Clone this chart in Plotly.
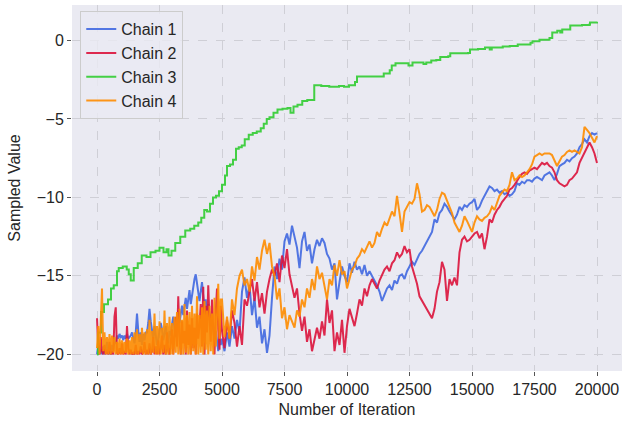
import plotly.graph_objects as go

# Stored iterations: every 50 during the first 5000 (burn-in), every 100 afterwards
iterations = list(range(0, 5000, 50)) + list(range(5000, 20001, 100))

chain1 = [
    # 0 - 4950
    -20.0, -19.4, -20.0, -19.7, -20.0, -19.5, -20.0, -19.8, -19.2, -20.0,
    -19.6, -20.0, -19.4, -19.7, -19.2, -19.3, -18.8, -19.0, -18.7, -18.9,
    -18.8, -19.1, -18.8, -19.0, -18.7, -19.0, -18.9, -18.8, -18.6, -19.0,
    -19.3, -18.6, -17.4, -18.5, -19.2, -18.6, -19.4, -18.7, -19.1, -18.6,
    -18.6, -18.0, -17.1, -17.9, -18.5, -19.0, -18.2, -18.8, -19.4, -19.0,
    -18.6, -18.0, -18.4, -19.1, -18.7, -18.2, -18.9, -19.3, -18.5, -18.8,
    -18.1, -17.6, -18.4, -18.9, -17.8, -17.2, -18.0, -17.4, -16.9, -17.5,
    -17.0, -16.4, -17.1, -16.6, -15.9, -16.8, -16.2, -15.6, -15.2, -14.9,
    -15.5, -15.9, -16.6, -16.0, -15.4, -16.3, -17.0, -16.5, -17.4, -16.8,
    -17.6, -18.2, -17.8, -18.6, -19.1, -18.5, -19.3, -19.8, -19.0, -19.4,
    # 5000 - 10000
    -19.0, -19.8, -18.6, -19.5, -18.2, -19.0, -17.8, -18.6, -16.0, -15.1, -16.4,
    -15.6, -17.5, -16.4, -18.3, -17.6, -19.3, -18.4, -19.9, -18.8, -16.4,
    -14.4, -15.2, -13.9, -14.6, -12.8, -12.3, -13.0, -11.8, -12.5, -13.2,
    -14.5, -12.8, -12.2, -13.4, -13.0, -14.2, -13.3, -12.7, -13.1, -12.6,
    -12.9, -13.6, -13.9, -14.6, -14.2, -16.5, -15.4, -14.4, -15.0, -15.4,
    # 10100 - 20000
    -14.2, -14.8, -14.1, -14.6, -14.4, -14.9, -14.3, -15.0, -14.7, -15.0,
    -15.2, -15.6, -16.0, -16.6, -16.2, -15.8, -15.6, -15.9, -15.3, -15.5,
    -15.0, -14.9, -15.2, -14.7, -14.4, -14.1, -14.3, -13.9, -13.6, -13.4,
    -13.1, -12.8, -12.5, -12.2, -11.4, -11.6, -11.0, -10.8, -10.4, -10.6,
    -10.9, -11.2, -11.4, -11.1, -10.6, -10.8, -10.5, -10.6, -10.4, -10.3,
    -10.1, -10.8, -10.6, -10.2, -9.9, -9.6, -9.3, -9.4, -9.6, -9.5,
    -9.7, -9.6, -9.8, -9.7, -9.9, -9.8, -9.6, -9.1, -9.2, -9.0,
    -9.1, -8.9, -8.9, -9.0, -8.8, -8.7, -8.8, -8.9, -8.6, -8.5,
    -8.4, -8.6, -8.9, -8.5, -8.0, -7.9, -7.8, -7.6, -7.7, -7.5,
    -7.4, -7.2, -6.8, -6.6, -6.3, -6.5, -6.1, -5.9, -6.0, -5.9,
]

chain2 = [
    # 0 - 4950
    -17.7, -19.6, -20.0, -18.9, -19.8, -20.0, -19.4, -20.0, -19.7, -20.0,
    -19.2, -20.0, -19.8, -20.0, -17.6, -17.0, -19.9, -20.0, -19.6, -20.0,
    -19.3, -20.0, -19.8, -20.0, -18.2, -19.6, -20.0, -19.7, -20.0, -19.9,
    -20.0, -19.4, -20.0, -19.8, -20.0, -19.5, -20.0, -19.9, -19.2, -20.0,
    -19.7, -20.0, -19.3, -20.0, -19.8, -18.9, -20.0, -19.5, -20.0, -19.1,
    -20.0, -19.6, -18.8, -20.0, -19.4, -20.0, -18.6, -19.8, -20.0, -19.2,
    -18.4, -20.0, -19.0, -17.6, -19.5, -16.3, -18.8, -20.0, -17.9, -19.3,
    -18.5, -20.0, -17.2, -19.4, -18.1, -20.0, -17.7, -19.6, -18.3, -20.0,
    -17.4, -19.0, -18.2, -16.8, -19.5, -15.7, -20.0, -16.9, -18.6, -15.6,
    -17.8, -19.2, -16.5, -18.9, -20.0, -17.3, -15.8, -18.4, -19.7, -16.9,
    # 5000 - 10000
    -18.5, -19.6, -17.8, -19.0, -17.2, -18.0, -19.5, -18.2, -19.4, -16.5, -16.9,
    -16.0, -15.2, -16.6, -15.4, -17.0, -16.1, -17.4, -16.0, -15.2, -14.6,
    -15.0, -14.2, -15.4, -13.7, -14.5, -13.3, -14.9, -15.6, -16.4, -15.8,
    -17.4, -18.5, -17.6, -19.2, -18.4, -19.8, -19.1, -18.3, -19.0, -17.9,
    -18.8, -16.5, -18.0, -17.2, -19.8, -18.6, -19.4, -17.8, -19.9, -18.2,
    # 10100 - 20000
    -17.1, -17.6, -18.2, -17.4, -16.5, -16.9, -15.8, -16.3, -15.6, -15.2,
    -15.5, -15.8, -15.3, -14.9, -14.6, -14.4, -14.7, -14.2, -14.0, -13.5,
    -13.8, -13.6, -13.1, -13.5, -13.3, -14.4, -14.9, -15.5, -16.3, -16.6,
    -16.9, -17.2, -17.5, -17.7, -17.1, -16.0, -15.4, -14.1, -14.6, -16.6,
    -15.2, -15.6, -15.1, -15.6, -13.5, -12.7, -12.5, -12.8, -12.7, -12.5,
    -12.3, -12.2, -12.6, -12.3, -13.3, -12.5, -11.4, -11.6, -11.1, -10.8,
    -10.6, -10.3, -10.1, -9.9, -9.5, -9.4, -9.2, -8.9, -8.7, -8.5,
    -8.4, -8.5, -8.3, -8.2, -8.1, -8.2, -8.0, -7.8, -7.9, -7.8,
    -8.0, -8.1, -8.4, -8.9, -9.1, -9.2, -9.3, -9.2, -8.9, -8.8,
    -8.6, -8.4, -7.8, -7.5, -7.2, -6.9, -6.5, -6.8, -7.2, -7.8,
]

chain4 = [
    # 0 - 4950
    -19.6, -18.2, -20.0, -17.3, -15.8, -19.8, -18.6, -20.0, -18.9, -20.0,
    -18.7, -20.0, -18.8, -19.9, -18.9, -20.0, -19.2, -20.0, -19.0, -20.0,
    -19.1, -20.0, -19.2, -19.9, -19.0, -20.0, -19.1, -20.0, -18.9, -20.0,
    -18.6, -20.0, -18.4, -20.0, -18.7, -19.9, -18.3, -20.0, -18.6, -20.0,
    -18.4, -20.0, -17.8, -20.0, -18.5, -19.9, -17.4, -20.0, -18.2, -20.0,
    -17.9, -20.0, -18.3, -19.9, -17.2, -20.0, -18.0, -20.0, -17.6, -20.0,
    -18.0, -20.0, -17.6, -19.9, -17.3, -20.0, -17.1, -20.0, -17.8, -20.0,
    -16.8, -19.9, -17.5, -20.0, -17.3, -20.0, -16.9, -19.8, -17.4, -20.0,
    -16.3, -20.0, -17.5, -19.9, -17.0, -20.0, -16.6, -19.7, -17.2, -20.0,
    -16.9, -19.8, -17.4, -20.0, -16.4, -19.5, -17.0, -15.5, -19.0, -16.5,
    # 5000 - 10000
    -16.5, -18.9, -17.6, -19.0, -16.5, -17.5, -15.8, -15.0, -14.6, -15.6, -15.2,
    -16.0, -14.4, -15.3, -13.8, -14.6, -13.4, -12.7, -13.6, -12.9, -14.4,
    -15.0, -16.5, -15.8, -17.7, -17.0, -18.4, -17.5, -17.9, -18.3, -17.2,
    -17.6, -16.5, -17.0, -15.8, -16.4, -15.2, -15.9, -14.4, -15.2, -14.8,
    -15.7, -16.5, -15.2, -15.6, -14.3, -15.0, -14.0, -14.9, -14.7, -15.8,
    # 10100 - 20000
    -15.2, -14.6, -14.4, -13.9, -13.7, -13.3, -13.5, -13.1, -12.8, -13.2,
    -12.9, -12.2, -12.5, -12.0, -11.6, -11.8, -11.3, -10.9, -11.2, -9.9,
    -11.0, -12.2, -10.9, -10.6, -10.3, -10.4, -10.1, -9.1, -9.8, -10.9,
    -10.8, -10.5, -10.6, -10.9, -11.2, -10.8, -10.1, -9.7, -9.8, -10.2,
    -10.6, -11.0, -11.6, -11.9, -12.2, -11.8, -11.2, -11.5, -11.9, -12.2,
    -11.6, -11.2, -11.4, -11.5, -11.3, -11.2, -11.0, -10.6, -10.8, -10.4,
    -9.9, -9.7, -9.5, -9.6, -9.2, -8.4, -8.9, -8.8, -8.6, -8.7,
    -8.6, -8.4, -8.2, -7.9, -7.4, -7.3, -7.2, -7.3, -7.2, -7.2,
    -7.2, -7.3, -7.6, -8.0, -7.7, -7.4, -7.3, -7.1, -7.0, -7.1,
    -7.0, -7.1, -7.2, -6.8, -5.5, -5.7, -5.9, -6.2, -6.5, -6.1,
]

# Chain 3 moves in discrete jumps; keep the iterations where its value changes
chain3_iter = [
    0, 40, 160, 280, 440, 560, 670, 800, 870, 1030,
    1190, 1270, 1350, 1470, 1630, 1790, 1980, 2140, 2340, 2500,
    2660, 2780, 2860, 2980, 3130, 3330, 3530, 3730, 3890, 4050,
    4170, 4290, 4400, 4520, 4640, 4760, 4880, 5000, 5120, 5200,
    5320, 5440, 5560, 5670, 5790, 5910, 6070, 6230, 6390, 6550,
    6670, 6790, 6900, 7060, 7220, 7420, 7620, 7740, 7860, 8020,
    8210, 8410, 8610, 8690, 8970, 9290, 9680, 9880, 10080, 10320,
    10400, 10870, 11390, 11470, 11710, 11790, 11940, 12380, 12460, 12620,
    12860, 13060, 13170, 13370, 13570, 13730, 14050, 14130, 14520, 14840,
    14920, 15240, 15520, 15630, 15710, 15790, 16230, 16510, 16830, 17340,
    17420, 17700, 18100, 18210, 18410, 18530, 18610, 18930, 19400, 19680,
    19720, 20000,
]
chain3 = [
    -20.0, -18.6, -17.3, -16.8, -16.5, -15.8, -15.6, -14.7, -14.5, -14.4,
    -14.6, -14.9, -15.3, -14.5, -14.2, -13.7, -13.8, -13.5, -13.4, -13.2,
    -13.5, -13.3, -13.7, -13.4, -12.9, -12.5, -12.1, -12.0, -11.8, -11.6,
    -11.3, -10.8, -10.9, -10.4, -10.0, -9.9, -9.6, -9.2, -8.6, -8.0,
    -7.9, -7.6, -6.9, -6.8, -6.7, -6.3, -6.0, -5.9, -5.8, -5.6,
    -5.3, -5.0, -4.9, -4.6, -4.4, -4.35, -4.3, -4.6, -4.2, -4.1,
    -3.85, -3.8, -3.8, -2.85, -2.9, -2.95, -2.9, -2.95, -2.85, -2.65,
    -2.3, -2.3, -2.3, -2.1, -1.9, -1.6, -1.45, -1.45, -1.6, -1.4,
    -1.4, -1.5, -1.4, -1.27, -1.25, -1.05, -1.0, -0.82, -0.82, -0.8,
    -0.57, -0.55, -0.44, -0.45, -0.58, -0.45, -0.38, -0.35, -0.25, -0.15,
    -0.05, 0.05, 0.15, 0.5, 0.62, 0.5, 0.7, 0.95, 0.98, 1.0,
    1.15, 1.2,
]

chain_names = ["Chain 1", "Chain 2", "Chain 3", "Chain 4"]
chain_colors = ["#4169E1", "#DC143C", "#32CD32", "#FF8C00"]
# chain 3 holds its value between jumps, the others are drawn point to point
chain_shapes = ["linear", "linear", "hv", "linear"]

x_ticks = [0, 2500, 5000, 7500, 10000, 12500, 15000, 17500, 20000]
x_tick_labels = [str(v) for v in x_ticks]
y_ticks = [-20, -15, -10, -5, 0]

series = [
    (iterations, chain1),
    (iterations, chain2),
    (chain3_iter, chain3),
    (iterations, chain4),
]

fig = go.Figure()
for (xs, ys), name, color, shape in zip(series, chain_names, chain_colors, chain_shapes):
    fig.add_trace(go.Scatter(
        x=xs, y=ys, mode="lines", name=name,
        line=dict(color=color, width=2, shape=shape),
        opacity=0.9,
    ))

font_family = "Liberation Sans, Arial, sans-serif"
grid_color = "#CFCFD6"
text_color = "#262626"

fig.update_layout(
    width=622, height=427,
    margin=dict(l=72, r=0, t=5, b=56),
    paper_bgcolor="white",
    plot_bgcolor="#EAEAF2",
    font=dict(family=font_family, size=16, color=text_color),
    showlegend=True,
    legend=dict(
        x=0.015, y=0.983, xanchor="left", yanchor="top",
        bgcolor="rgba(234,234,242,0.8)",
        bordercolor="#CCCCCC", borderwidth=1,
        font=dict(size=16, color=text_color),
        itemwidth=30,
    ),
)

fig.update_xaxes(
    range=[-1000, 21000],
    tickvals=x_ticks, ticktext=x_tick_labels,
    ticks="outside", ticklen=4, tickcolor="#555555",
    showgrid=True, gridcolor=grid_color, griddash="dash", gridwidth=1,
    zeroline=False, showline=False,
    title=dict(text="Number of Iteration", standoff=6, font=dict(size=16)),
    tickfont=dict(size=16),
)
fig.update_yaxes(
    range=[-21.06, 2.26],
    tickvals=y_ticks,
    ticks="outside", ticklen=4, tickcolor="#555555",
    showgrid=True, gridcolor=grid_color, griddash="dash", gridwidth=1,
    zeroline=False, showline=False,
    title=dict(text="Sampled Value", standoff=12, font=dict(size=16)),
    tickfont=dict(size=16),
)

fig.write_html("out.html")
